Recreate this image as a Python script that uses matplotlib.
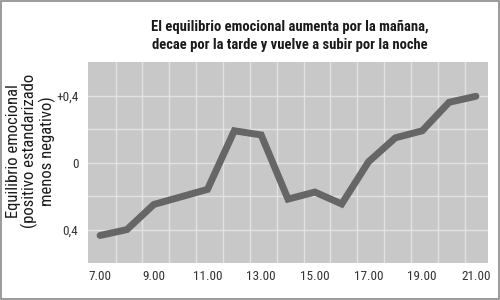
import matplotlib
matplotlib.use("Agg")
import matplotlib.pyplot as plt
from matplotlib.patches import Rectangle
from matplotlib import font_manager
import matplotlib.patheffects as pe

hours = [7, 8, 9, 10, 11, 12, 13, 14, 15, 16, 17, 18, 19, 20, 21]
balance = [-0.435, -0.40, -0.25, -0.205, -0.16, 0.19, 0.165, -0.218, -0.176, -0.247, 0.005, 0.148, 0.19, 0.36, 0.396]
xtick_pos = [7, 9, 11, 13, 15, 17, 19, 21]
xtick_labels = ["7.00", "9.00", "11.00", "13.00", "15.00", "17.00", "19.00", "21.00"]
ytick_pos = [-0.4, 0, 0.4]
ytick_labels = ["0,4", "0", "+0,4"]

# choose a narrow font by file (regular + bold), if installed
fonts = font_manager.fontManager.ttflist
def wnum(f):
    w = f.weight
    if isinstance(w, int):
        return w
    return font_manager.weight_dict.get(w, 400)
def rank(f):
    return (0 if 'Liberation' in f.name else 1 if 'Roboto' in f.name else 2, f.name)
named = [f for f in fonts if ('Narrow' in f.name or 'Condensed' in f.name) and f.style == 'normal']
regs = sorted([f for f in named if 350 <= wnum(f) <= 450], key=rank)
reg_fp = None
bold_fp = None
if regs:
    reg = regs[0]
    reg_fp = font_manager.FontProperties(fname=reg.fname)
    bolds = [f for f in named if f.name == reg.name and wnum(f) >= 600]
    if bolds:
        bold_fp = font_manager.FontProperties(fname=bolds[0].fname)
title_effects = []
if reg_fp is None:
    reg_fp = font_manager.FontProperties(family='DejaVu Sans', stretch='condensed')
    bold_fp = font_manager.FontProperties(family='DejaVu Sans', stretch='condensed', weight='bold')
if bold_fp is None:
    bold_fp = reg_fp.copy()
    title_effects = [pe.withStroke(linewidth=0.8, foreground='#1a1a1a')]

fig = plt.figure(figsize=(5, 3), dpi=100)
fig.patch.set_facecolor('white')
fig.patches.append(Rectangle((0.002, 0.003), 0.996, 0.994, transform=fig.transFigure,
                             fill=False, edgecolor='#8a8a8a', linewidth=1.2))

ax = fig.add_axes([0.176, 0.123, 0.8, 0.67])
ax.set_facecolor('#c8c8c8')
ax.plot(hours, balance, color='#666666', linewidth=5, solid_capstyle='round', solid_joinstyle='miter', zorder=3)

ax.set_xlim(6.55, 21.45)
ax.set_ylim(-0.6, 0.6)
ax.set_xticks(xtick_pos)
ax.set_xticklabels(xtick_labels)
ax.set_yticks(ytick_pos)
ax.set_yticklabels(ytick_labels)
ax.set_xticks([h + 0.58 for h in hours[:-1]], minor=True)
ax.set_yticks([-0.2, 0.2], minor=True)
ax.grid(True, which='minor', color='#e2e2e2', linewidth=1.0, zorder=0)
ax.grid(True, which='major', axis='y', color='#e2e2e2', linewidth=1.0, zorder=0)
ax.grid(False, which='major', axis='x')
ax.set_axisbelow(True)
ax.tick_params(which='both', length=0, colors='#333333')
ax.tick_params(axis='x', pad=5)
ax.tick_params(axis='y', pad=7)
tick_fp = reg_fp.copy()
tick_fp.set_size(9.5)
for lab in ax.get_xticklabels() + ax.get_yticklabels():
    lab.set_fontproperties(tick_fp)
for s in ax.spines.values():
    s.set_visible(False)

title_fp = bold_fp.copy()
title_fp.set_size(10.5)
fig.text(0.58, 0.88, "El equilibrio emocional aumenta por la mañana,\ndecae por la tarde y vuelve a subir por la noche",
         ha='center', va='center', fontproperties=title_fp, color='#1a1a1a', linespacing=1.3,
         path_effects=title_effects)
ylab_fp = reg_fp.copy()
ylab_fp.set_size(12)
fig.text(0.062, 0.497, "Equilibrio emocional\n(positivo estandarizado\nmenos negativo)",
         ha='center', va='center', rotation=90, fontproperties=ylab_fp, color='#1a1a1a', linespacing=1.02)

fig.savefig("out.png", dpi=100)
